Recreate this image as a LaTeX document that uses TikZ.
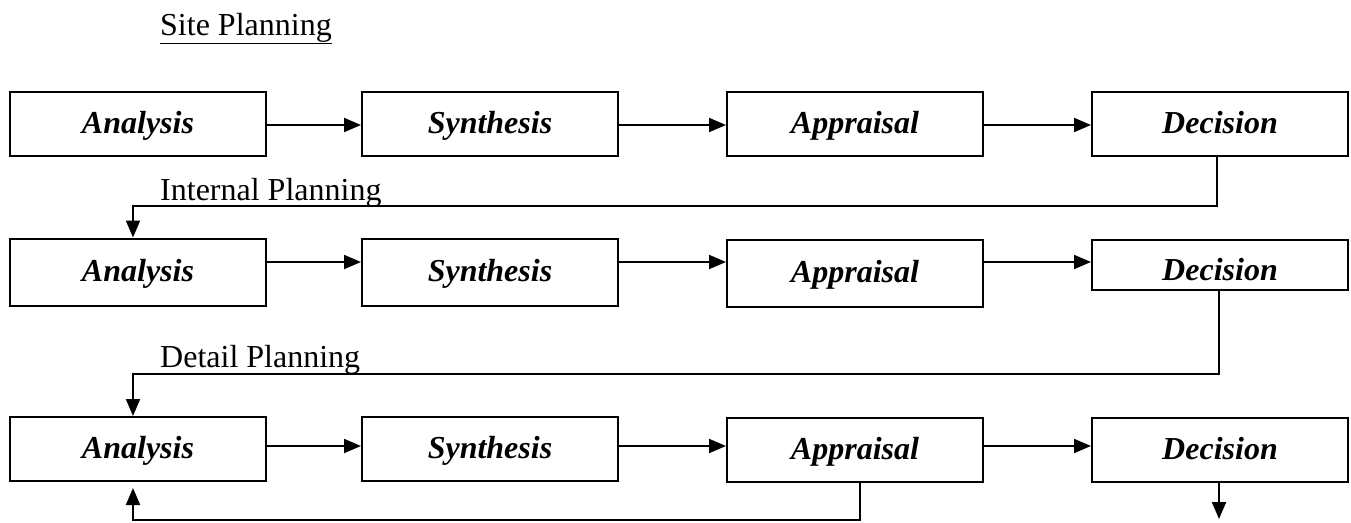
\documentclass[tikz,border=0pt]{standalone}
\usepackage{fontspec}
\setmainfont{Liberation Serif}
\usetikzlibrary{arrows.meta,calc}
\begin{document}
\begin{tikzpicture}[x=1pt,y=-1pt,
  box/.style={draw,line width=2pt,minimum width=256pt,inner sep=0pt,text height=24pt,text depth=6pt,font=\fontsize{32}{36}\selectfont\bfseries\itshape},
  arr/.style={line width=2pt,-{Triangle[length=17pt,width=14pt]}},
  lbl/.style={font=\fontsize{32}{36}\selectfont,inner sep=0pt,anchor=base west}]
\useasboundingbox (0,0) rectangle (1351,522);
% row 1
\node[box,minimum height=64pt] (a1) at (138,124) {Analysis};
\node[box,minimum height=64pt] (s1) at (490,124) {Synthesis};
\node[box,minimum height=64pt] (p1) at (855,124) {Appraisal};
\node[box,minimum height=64pt] (d1) at (1220,124) {Decision};
% row 2
\node[box,minimum height=67pt] (a2) at (138,272) {Analysis};
\node[box,minimum height=67pt] (s2) at (490,272) {Synthesis};
\node[box,minimum height=67pt] (p2) at (855,273) {Appraisal};
\node[box,minimum height=50pt] (d2) at (1220,265) {\raisebox{-6pt}{Decision}};
% row 3
\node[box,minimum height=64pt] (a3) at (138,449) {Analysis};
\node[box,minimum height=64pt] (s3) at (490,449) {Synthesis};
\node[box,minimum height=64pt] (p3) at (855,450) {Appraisal};
\node[box,minimum height=64pt] (d3) at (1220,450) {Decision};
% labels
\node[lbl] (t1) at (160,35) {\underline{Site Planning}};
\node[lbl] (t2) at (160,200) {Internal Planning};
\node[lbl] (t3) at (160,367) {Detail Planning};
% horizontal arrows
\draw[arr] (a1.east |- 0,125) -- (s1.west |- 0,125);
\draw[arr] (s1.east |- 0,125) -- (p1.west |- 0,125);
\draw[arr] (p1.east |- 0,125) -- (d1.west |- 0,125);
\draw[arr] (a2.east |- 0,262) -- (s2.west |- 0,262);
\draw[arr] (s2.east |- 0,262) -- (p2.west |- 0,262);
\draw[arr] (p2.east |- 0,262) -- (d2.west |- 0,262);
\draw[arr] (a3.east |- 0,446) -- (s3.west |- 0,446);
\draw[arr] (s3.east |- 0,446) -- (p3.west |- 0,446);
\draw[arr] (p3.east |- 0,446) -- (d3.west |- 0,446);
% feedback connectors
\draw[arr] (1217,0 |- d1.south) -- (1217,206) -- (133,206) -- (133,0 |- a2.north);
\draw[arr] (1219,0 |- d2.south) -- (1219,374) -- (133,374) -- (133,0 |- a3.north);
\draw[arr,shorten >=6pt] (860,0 |- p3.south) -- (860,520) -- (133,520) -- (133,0 |- a3.south);
\coordinate (end) at (1219,519);
\draw[arr] (1219,0 |- d3.south) -- (end);
\end{tikzpicture}
\end{document}
